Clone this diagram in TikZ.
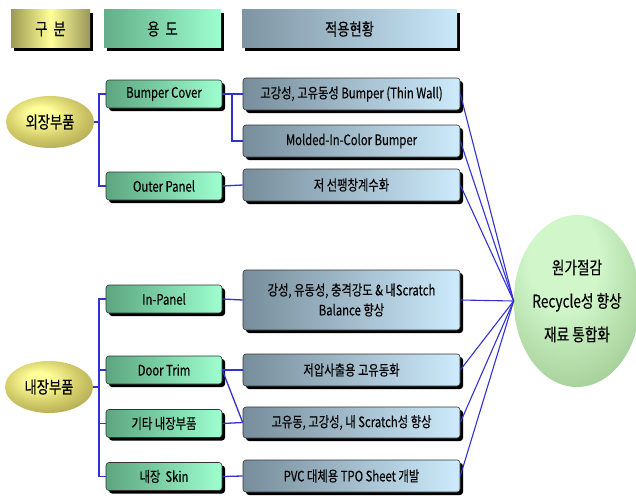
\documentclass[tikz,border=0pt]{standalone}
\usepackage{fontspec}
\setmainfont{Noto Sans CJK KR}[FakeStretch=0.78, FakeBold=0.25]
\usetikzlibrary{shadows,shapes.geometric}
\definecolor{hAl}{HTML}{9C9A52}
\definecolor{hAm}{HTML}{FFFF99}
\definecolor{hAr}{HTML}{9A985A}
\definecolor{grL}{HTML}{5CA680}
\definecolor{grR}{HTML}{9EFFCF}
\definecolor{gyL}{HTML}{778D9B}
\definecolor{gyR}{HTML}{CDEBFC}
\definecolor{hBL}{HTML}{63AE88}
\definecolor{hCL}{HTML}{7E94A2}
\definecolor{hCR}{HTML}{C9E8FA}
\definecolor{ylA}{HTML}{FFFF9A}
\definecolor{ylB}{HTML}{D6CF6C}
\definecolor{ylC}{HTML}{A8A04E}
\definecolor{ylD}{HTML}{625E22}
\definecolor{bgA}{HTML}{D0F6CA}
\definecolor{bgB}{HTML}{A8D29C}
\definecolor{bgC}{HTML}{709A68}
\definecolor{bgD}{HTML}{40683C}
\definecolor{link}{HTML}{3232D2}
\definecolor{edge}{HTML}{333333}
\pgfdeclareradialshading{yellowball}{\pgfpoint{-6bp}{8bp}}{color(0bp)=(ylA); color(7bp)=(ylA); color(20bp)=(ylB); color(36bp)=(ylC); color(52bp)=(ylD); color(80bp)=(ylD)}
\pgfdeclareradialshading{greenball}{\pgfpoint{-6bp}{14bp}}{color(0bp)=(bgA); color(14bp)=(bgA); color(34bp)=(bgB); color(52bp)=(bgC); color(66bp)=(bgD); color(90bp)=(bgD)}
\tikzset{
  blackshadow/.style={drop shadow={shadow xshift=3pt, shadow yshift=-3pt, fill=black, opacity=1}},
  hdr/.style={minimum height=38pt, inner sep=0pt, font=\fontsize{17}{20}\selectfont, blackshadow},
  usebox/.style={rounded corners=3pt, draw=edge, line width=0.6pt, minimum width=116pt, minimum height=28pt, inner sep=0pt,
    left color=grL, right color=grR, font=\fontsize{14.5}{17}\selectfont, blackshadow},
  appbox/.style={rounded corners=3pt, draw=edge, line width=0.6pt, minimum width=217pt, minimum height=32pt, inner sep=0pt,
    left color=gyL, right color=gyR, font=\fontsize{14.5}{20}\selectfont, align=center, blackshadow},
  partell/.style={ellipse, minimum width=88pt, minimum height=52pt, inner sep=0pt, shading=yellowball, font=\fontsize{17}{20}\selectfont},
  lk/.style={draw=link, line width=1.3pt}
}
\begin{document}
\begin{tikzpicture}[x=1pt,y=-1pt]
\useasboundingbox (0,0) rectangle (636,495);
% headers
\node[hdr, minimum width=79pt, left color=hAl, right color=hAr, middle color=hAm] (h1) at (50.5,29) {구\ \ 분};
\node[hdr, minimum width=117pt, left color=hBL, right color=grR] (h2) at (162.5,29) {용\ \ 도};
\node[hdr, minimum width=215pt, left color=hCL, right color=hCR] (h3) at (349.5,29) {적용현황};
% part ellipses
\node[partell] (ext) at (50,122) {외장부품};
\node[partell] (int) at (49,387) {내장부품};
% use boxes
\node[usebox] (bc) at (164,94) {Bumper Cover};
\node[usebox] (op) at (164,186) {Outer Panel};
\node[usebox] (ip) at (164,299) {In-Panel};
\node[usebox] (dt) at (164,370) {Door Trim};
\node[usebox] (ot) at (164,423.5) {기타 내장부품};
\node[usebox] (sk) at (164,476.5) {내장\ \ Skin};
% application boxes
\node[appbox] (g1) at (351.5,94) {고강성, 고유동성 Bumper (Thin Wall)};
\node[appbox] (g2) at (351.5,141) {Molded-In-Color Bumper};
\node[appbox] (g3) at (351.5,185) {저 선팽창계수화};
\node[appbox, minimum height=60pt] (g4) at (351.5,300) {강성, 유동성, 충격강도 \& 내Scratch\\Balance 향상};
\node[appbox] (g5) at (351.5,370) {저압사출용 고유동화};
\node[appbox, minimum height=31pt] (g6) at (351.5,422.5) {고유동, 고강성, 내 Scratch성 향상};
\node[appbox] (g7) at (351.5,476) {PVC 대체용 TPO Sheet 개발};
% goal ellipse
\node[ellipse, minimum width=115pt, minimum height=172pt, inner sep=0pt, shading=greenball, align=center,
  font=\fontsize{17.5}{33.5}\selectfont] (goal) at (577,301) {원가절감\\Recycle성 향상\\재료 통합화};
% connectors: parts to uses
\coordinate (ve) at (99,122);
\coordinate (vi) at (99,387);
\draw[lk] (ext.east) -- (ve);
\draw[lk] (bc.west) -| (ve) |- (op.west);
\draw[lk] (int.east) -- (vi);
\draw[lk] (ip.west) -| (vi) |- (sk.west);
\draw[lk] (dt.west) -- (dt.west -| vi);
\draw[lk] (ot.west) -- (ot.west -| vi);
% uses to applications
\coordinate (vb) at (232,94);
\draw[lk] (bc.east) -- (g1.west);
\draw[lk] (vb) |- (g2.west);
\draw[lk] (op.east) -- (g3.west);
\draw[lk] (ip.east) -- (g4.west);
\draw[lk] (dt.east) -- (g5.west);
\draw[lk] (dt.east) -- (g6.west);
\draw[lk] (ot.east) -- (g6.west);
\draw[lk] (sk.east) -- (g7.west);
% applications to goal
\foreach \g in {g1,g2,g3,g4,g5,g6,g7}{\draw[lk, line width=1.1pt] (\g.east) -- (goal.west);}
\end{tikzpicture}
\end{document}
